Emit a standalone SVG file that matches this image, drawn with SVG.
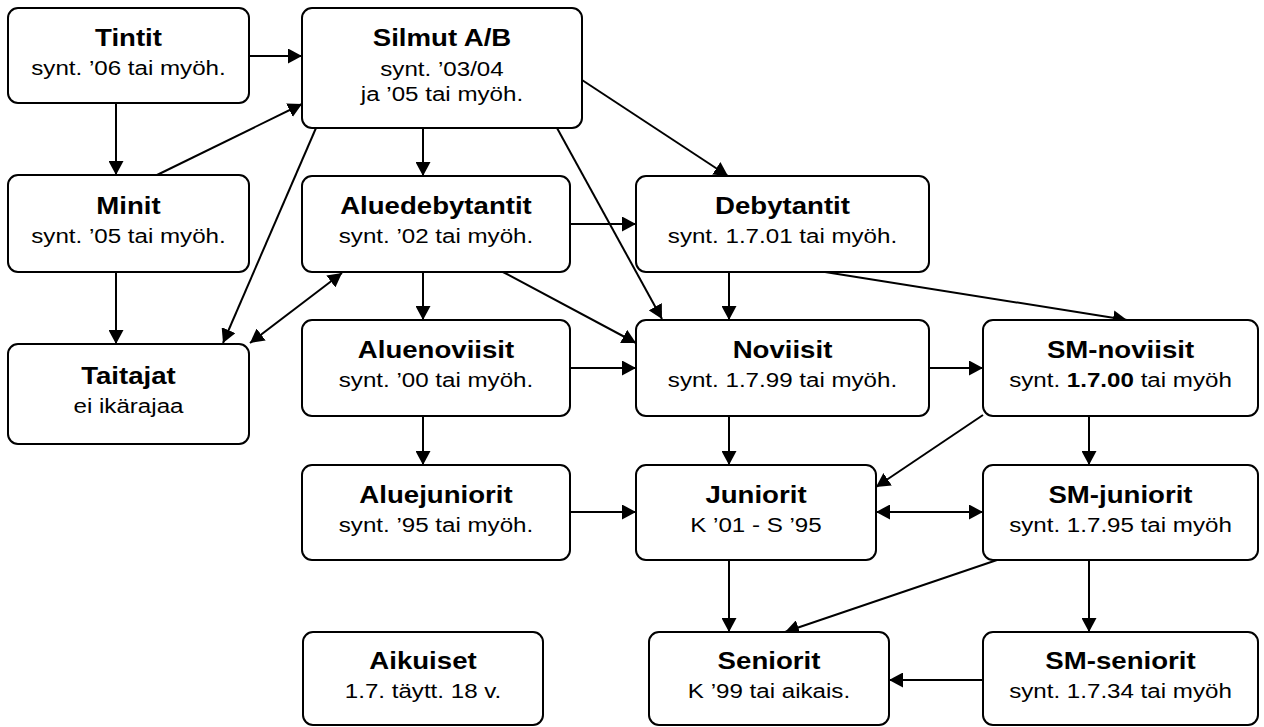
<svg xmlns="http://www.w3.org/2000/svg" width="1264" height="727" viewBox="0 0 1264 727">
<style>
.box{fill:#fff;stroke:#000;stroke-width:2}
.t{font-family:"Liberation Sans",Arial,sans-serif;font-size:24px;font-weight:bold;text-anchor:middle;fill:#000}
.s{font-family:"Liberation Sans",Arial,sans-serif;font-size:21px;text-anchor:middle;fill:#000}
.c line{stroke:#000;stroke-width:2;marker-end:url(#ah)}
.c line.d{marker-start:url(#ah)}
</style>
<defs>
<marker id="ah" markerUnits="userSpaceOnUse" markerWidth="15" markerHeight="15" refX="14" refY="7.5" orient="auto-start-reverse">
<path d="M0,0 L14,7.5 L0,15 z" fill="#000"/>
</marker>
</defs>
<rect width="1264" height="727" fill="#fff"/>
<g id="connectors" class="c">
<line x1="249" y1="56" x2="302" y2="56"/>
<line x1="116" y1="103" x2="116" y2="175"/>
<line x1="157" y1="175" x2="302" y2="104"/>
<line x1="116" y1="272" x2="116" y2="344"/>
<line x1="316" y1="128" x2="223" y2="343"/>
<line x1="423" y1="128" x2="423" y2="176"/>
<line x1="582" y1="80" x2="728" y2="176"/>
<line x1="557" y1="128" x2="662" y2="319"/>
<line x1="570" y1="224" x2="636" y2="224"/>
<line x1="423" y1="272" x2="423" y2="320"/>
<line x1="503" y1="272" x2="636" y2="343"/>
<line class="d" x1="250" y1="343" x2="342" y2="273"/>
<line x1="569" y1="368" x2="636" y2="368"/>
<line x1="423" y1="416" x2="423" y2="465"/>
<line x1="729" y1="272" x2="729" y2="320"/>
<line x1="825" y1="272" x2="1127" y2="320"/>
<line x1="888" y1="368" x2="983" y2="368"/>
<line x1="729" y1="416" x2="729" y2="465"/>
<line x1="1089" y1="416" x2="1089" y2="465"/>
<line x1="983" y1="415" x2="876" y2="487"/>
<line x1="569" y1="512" x2="636" y2="512"/>
<line class="d" x1="876" y1="512" x2="983" y2="512"/>
<line x1="729" y1="560" x2="729" y2="632"/>
<line x1="997" y1="560" x2="785" y2="632"/>
<line x1="1089" y1="560" x2="1089" y2="632"/>
<line x1="983" y1="680" x2="889" y2="680"/>
</g>
<g id="tintit"><rect class="box" x="8" y="8" width="241" height="95" rx="10"/>
<text class="t" transform="scale(1.15 1)" x="111.74" y="46">Tintit</text>
<text class="s" transform="scale(1.15 1)" x="111.74" y="75">synt. ’06 tai myöh.</text></g>
<g id="silmut"><rect class="box" x="302" y="8" width="280" height="120" rx="10"/>
<text class="t" transform="scale(1.15 1)" x="384.35" y="46">Silmut A/B</text>
<text class="s" transform="scale(1.15 1)" x="384.35" y="76">synt. ’03/04</text>
<text class="s" transform="scale(1.15 1)" x="384.35" y="101">ja ’05 tai myöh.</text></g>
<g id="minit"><rect class="box" x="8" y="175" width="241" height="97" rx="10"/>
<text class="t" transform="scale(1.15 1)" x="111.74" y="214">Minit</text>
<text class="s" transform="scale(1.15 1)" x="111.74" y="243">synt. ’05 tai myöh.</text></g>
<g id="taitajat"><rect class="box" x="8" y="344" width="241" height="100" rx="10"/>
<text class="t" transform="scale(1.15 1)" x="111.74" y="384.5">Taitajat</text>
<text class="s" transform="scale(1.15 1)" x="111.74" y="413.5">ei ikärajaa</text></g>
<g id="aluedebytantit"><rect class="box" x="302" y="176" width="268" height="96" rx="10"/>
<text class="t" transform="scale(1.15 1)" x="379.13" y="214.5">Aluedebytantit</text>
<text class="s" transform="scale(1.15 1)" x="379.13" y="243.5">synt. ’02 tai myöh.</text></g>
<g id="aluenoviisit"><rect class="box" x="302" y="320" width="268" height="96" rx="10"/>
<text class="t" transform="scale(1.15 1)" x="379.13" y="358.5">Aluenoviisit</text>
<text class="s" transform="scale(1.15 1)" x="379.13" y="387.5">synt. ’00 tai myöh.</text></g>
<g id="aluejuniorit"><rect class="box" x="302" y="465" width="268" height="95" rx="10"/>
<text class="t" transform="scale(1.15 1)" x="379.13" y="503">Aluejuniorit</text>
<text class="s" transform="scale(1.15 1)" x="379.13" y="532">synt. ’95 tai myöh.</text></g>
<g id="aikuiset"><rect class="box" x="303" y="632" width="240" height="93" rx="10"/>
<text class="t" transform="scale(1.15 1)" x="367.83" y="669">Aikuiset</text>
<text class="s" transform="scale(1.15 1)" x="367.83" y="698">1.7. täytt. 18 v.</text></g>
<g id="debytantit"><rect class="box" x="636" y="176" width="293" height="96" rx="10"/>
<text class="t" transform="scale(1.15 1)" x="680.43" y="214.5">Debytantit</text>
<text class="s" transform="scale(1.15 1)" x="680.43" y="243.5">synt. 1.7.01 tai myöh.</text></g>
<g id="noviisit"><rect class="box" x="636" y="320" width="293" height="96" rx="10"/>
<text class="t" transform="scale(1.15 1)" x="680.43" y="358.5">Noviisit</text>
<text class="s" transform="scale(1.15 1)" x="680.43" y="387.5">synt. 1.7.99 tai myöh.</text></g>
<g id="juniorit"><rect class="box" x="636" y="465" width="240" height="95" rx="10"/>
<text class="t" transform="scale(1.15 1)" x="657.39" y="503">Juniorit</text>
<text class="s" transform="scale(1.15 1)" x="657.39" y="532">K ’01 - S ’95</text></g>
<g id="seniorit"><rect class="box" x="649" y="632" width="240" height="93" rx="10"/>
<text class="t" transform="scale(1.15 1)" x="668.70" y="669">Seniorit</text>
<text class="s" transform="scale(1.15 1)" x="668.70" y="698">K ’99 tai aikais.</text></g>
<g id="sm-noviisit"><rect class="box" x="983" y="320" width="275" height="96" rx="10"/>
<text class="t" transform="scale(1.15 1)" x="974.35" y="358.5">SM-noviisit</text>
<text class="s" transform="scale(1.15 1)" x="974.35" y="387.5">synt. <tspan font-weight="bold">1.7.00</tspan> tai myöh</text></g>
<g id="sm-juniorit"><rect class="box" x="983" y="465" width="275" height="95" rx="10"/>
<text class="t" transform="scale(1.15 1)" x="974.35" y="503">SM-juniorit</text>
<text class="s" transform="scale(1.15 1)" x="974.35" y="532">synt. 1.7.95 tai myöh</text></g>
<g id="sm-seniorit"><rect class="box" x="983" y="632" width="275" height="93" rx="10"/>
<text class="t" transform="scale(1.15 1)" x="974.35" y="669">SM-seniorit</text>
<text class="s" transform="scale(1.15 1)" x="974.35" y="698">synt. 1.7.34 tai myöh</text></g>
</svg>
